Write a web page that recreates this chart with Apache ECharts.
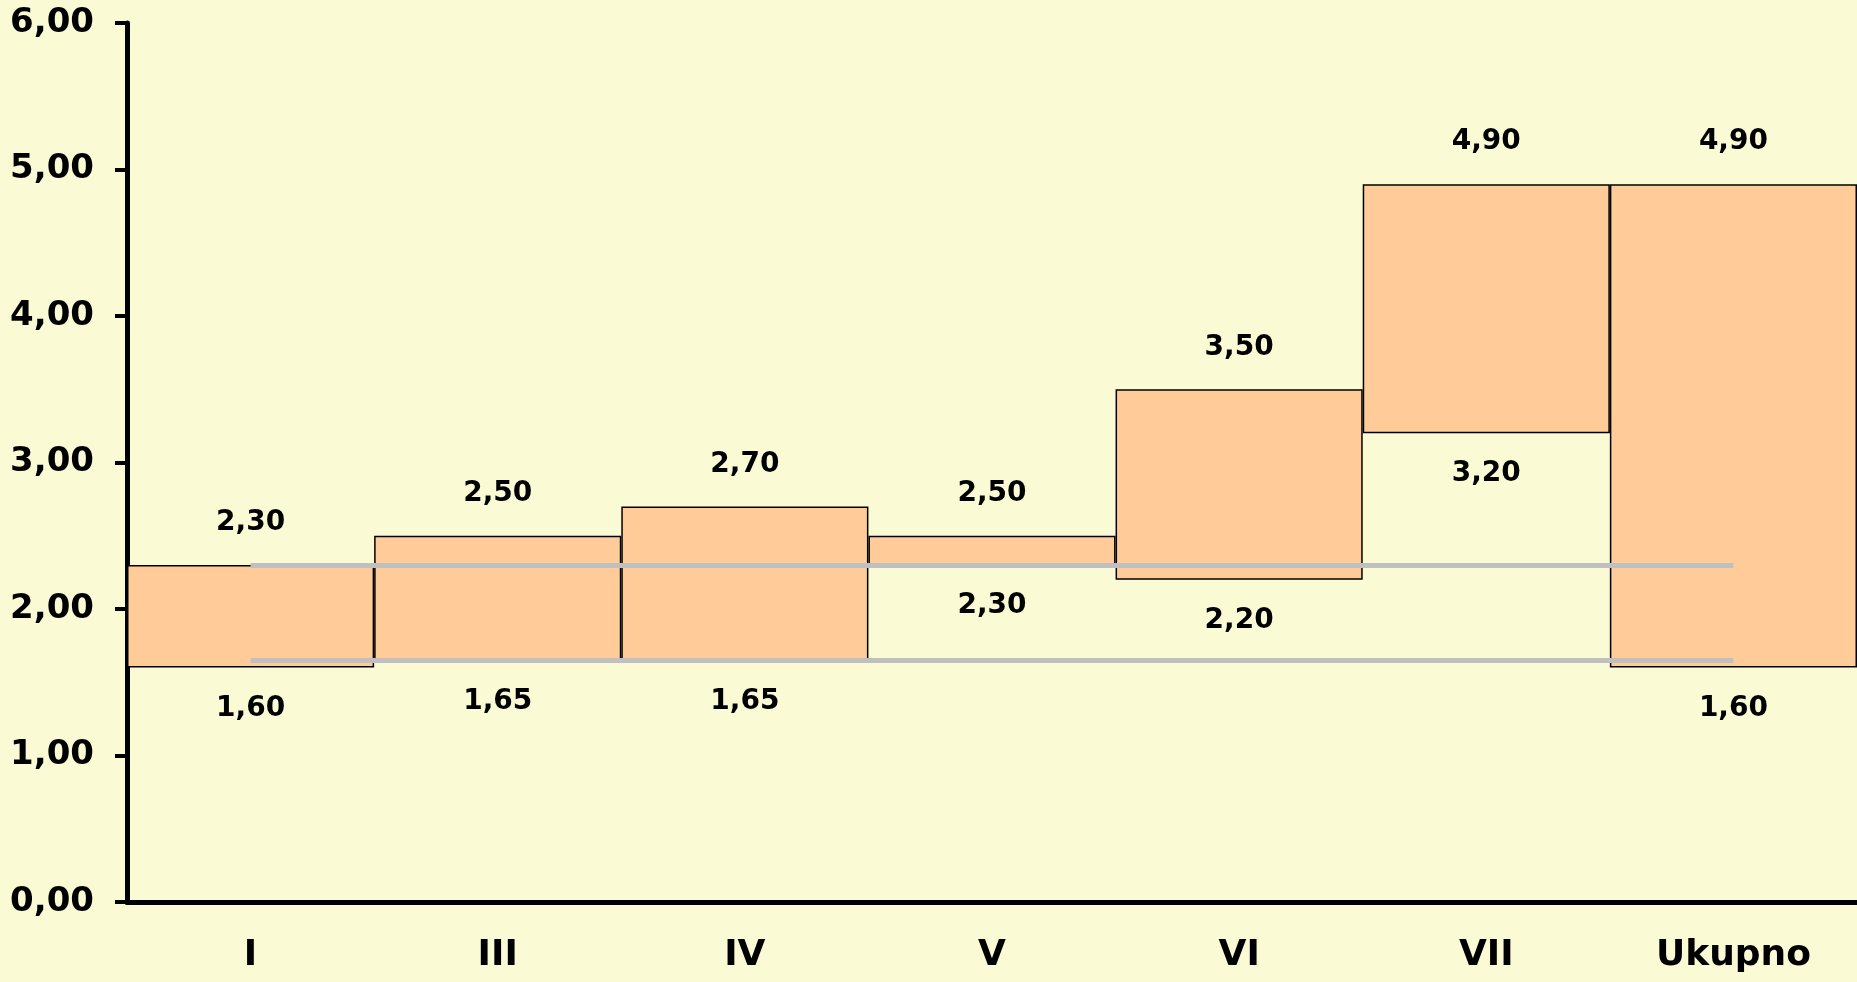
<!DOCTYPE html>
<html>
<head>
<meta charset="utf-8">
<script src="https://cdn.jsdelivr.net/npm/echarts@6/dist/echarts.min.js"></script>
<style>
  html, body { margin: 0; padding: 0; background: #FAFAD4; }
  #chart { width: 1857px; height: 982px; }
</style>
</head>
<body>
<div id="chart"></div>
<script>
// kategorije i vrijednosti (raspon min - max)
var categories = ['I', 'III', 'IV', 'V', 'VI', 'VII', 'Ukupno'];
var lowValues = [1.60, 1.65, 1.65, 2.30, 2.20, 3.20, 1.60];
var highValues = [2.30, 2.50, 2.70, 2.50, 3.50, 4.90, 4.90];
// sive referentne linije
var refLines = [2.30, 1.65];

var FONT = 'DejaVu Sans';

function fmt(v) {
  return Number(v).toFixed(2).replace('.', ',');
}

var spanValues = [];
for (var i = 0; i < categories.length; i++) {
  spanValues[i] = +(highValues[i] - lowValues[i]).toFixed(4);
}

var refData = [];
for (var j = 0; j < refLines.length; j++) {
  refData.push([
    { coord: [categories[0], refLines[j]] },
    { coord: [categories[categories.length - 1], refLines[j]] }
  ]);
}

var chart = echarts.init(document.getElementById('chart'));

var option = {
  animation: false,
  backgroundColor: '#FAFAD4',
  grid: { left: 127, right: 0, top: 23, bottom: 80 },
  xAxis: {
    type: 'category',
    data: categories,
    axisLine: { lineStyle: { color: '#000', width: 5 } },
    axisTick: { length: 9, lineStyle: { color: '#000', width: 4 } },
    axisLabel: {
      color: '#000', fontFamily: FONT, fontWeight: 'bold', fontSize: 36,
      margin: 36, interval: 0
    },
    splitLine: { show: false }
  },
  yAxis: {
    type: 'value',
    min: 0,
    max: 6,
    interval: 1,
    axisLine: { show: true, lineStyle: { color: '#000', width: 5 } },
    axisTick: { show: true, length: 12, lineStyle: { color: '#000', width: 4 } },
    axisLabel: {
      color: '#000', fontFamily: FONT, fontWeight: 'bold', fontSize: 34,
      margin: 33,
      formatter: function (v) { return fmt(v); }
    },
    splitLine: { show: false }
  },
  series: [
    {
      // nevidljiva baza, nosi donju oznaku
      type: 'bar',
      stack: 'range',
      data: lowValues,
      barWidth: '100%',
      barCategoryGap: '0%',
      itemStyle: { color: 'transparent' },
      label: {
        show: true,
        position: 'insideTop',
        distance: 27,
        color: '#000', fontFamily: FONT, fontWeight: 'bold', fontSize: 28,
        formatter: function (p) { return fmt(lowValues[p.dataIndex]); }
      },
      z: 2
    },
    {
      type: 'bar',
      stack: 'range',
      data: spanValues,
      barWidth: '100%',
      barCategoryGap: '0%',
      itemStyle: { color: '#FFCC99', borderColor: '#000', borderWidth: 1.5 },
      label: {
        show: true,
        position: 'top',
        distance: 28,
        color: '#000', fontFamily: FONT, fontWeight: 'bold', fontSize: 28,
        formatter: function (p) { return fmt(highValues[p.dataIndex]); }
      },
      z: 2
    },
    {
      type: 'line',
      data: [],
      symbol: 'none',
      z: 5,
      markLine: {
        silent: true,
        symbol: ['none', 'none'],
        label: { show: false },
        lineStyle: { color: '#C0C0C0', width: 5, type: 'solid' },
        data: refData
      }
    }
  ]
};

chart.setOption(option);
</script>
</body>
</html>
